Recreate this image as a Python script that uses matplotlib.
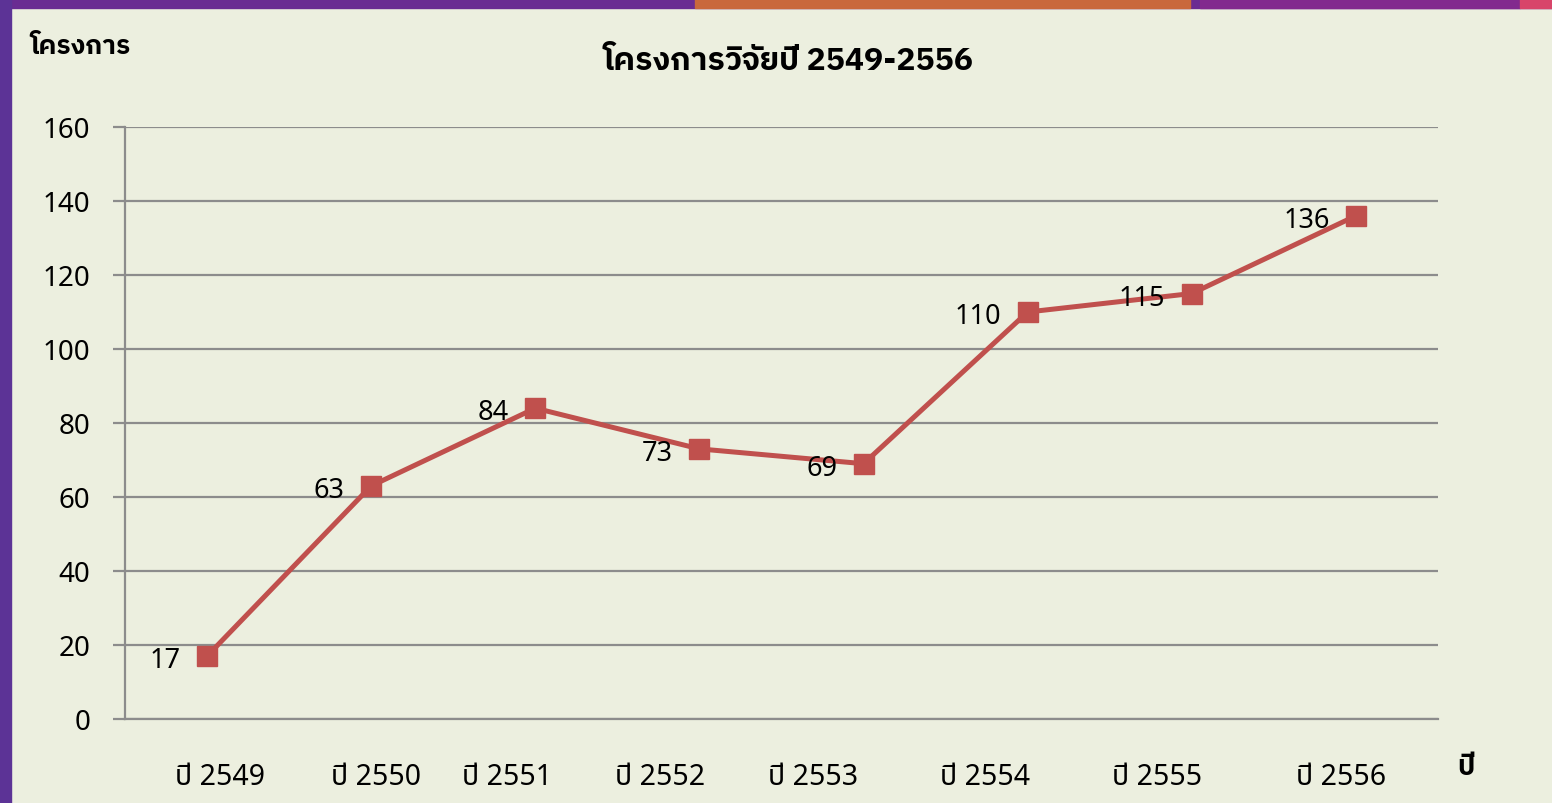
import matplotlib
matplotlib.use('Agg')
import matplotlib.pyplot as plt
from matplotlib.patches import Rectangle
import warnings
warnings.filterwarnings('ignore')

plt.rcParams['font.family'] = ['Noto Sans Thai', 'Bai Jamjuree', 'DejaVu Sans']
bold_fam = ['IBM Plex Sans Thai', 'Kanit', 'Bai Jamjuree', 'DejaVu Sans']

# data
years = ['ปี 2549', 'ปี 2550', 'ปี 2551', 'ปี 2552', 'ปี 2553', 'ปี 2554', 'ปี 2555', 'ปี 2556']
projects = [17, 63, 84, 73, 69, 110, 115, 136]
# where Excel put the year labels (category units)
label_pos = [0.08, 1.03, 1.83, 2.76, 3.69, 4.74, 5.79, 6.91]

bg = '#ECEFDF'
red = '#C0504D'
grid = '#8C8C8C'

fig = plt.figure(figsize=(15.52, 8.04), dpi=100)
fig.patch.set_facecolor(bg)

# slide background showing at the top and left edges
W, H = 1552, 804
def band(x0, y0, w, h, c):
    fig.patches.append(Rectangle((x0 / W, 1 - (y0 + h) / H), w / W, h / H,
                                 transform=fig.transFigure, color=c, zorder=-5))
band(0, 0, W, 9, '#6A2C92')
band(0, 0, 11, H, '#5C3396')
band(695, 0, 495, 9, '#C9683C')
band(1200, 0, 320, 9, '#822A8E')
band(1520, 0, 32, 9, '#D8456A')

ax = fig.add_axes([125 / W, 1 - 720 / H, (1438 - 125) / W, (720 - 128) / H])
ax.set_facecolor(bg)

x = list(range(len(years)))
ax.plot(x, projects, color=red, lw=3.6, marker='s', ms=14.5, zorder=3)
for xi, v in zip(x, projects):
    ax.annotate(str(v), (xi, v), xytext=(-19, -3), textcoords='offset points',
                ha='right', va='center', fontsize=19.5, color='black')

ax.set_xlim(-0.5, 7.5)
ax.set_ylim(0, 160)
ax.set_yticks(range(0, 161, 20))
ax.yaxis.grid(True, color=grid, lw=1.6)
ax.set_axisbelow(True)
ax.set_xticks(label_pos)
ax.set_xticklabels(years, fontsize=20.5)
ax.tick_params(axis='x', length=0, pad=31)
ax.tick_params(axis='y', length=9, width=1.6, color=grid, labelsize=20, pad=16)
for s in ['top', 'right']:
    ax.spines[s].set_visible(False)
for s in ['left', 'bottom']:
    ax.spines[s].set_color(grid)
    ax.spines[s].set_linewidth(1.6)

fig.text(789 / W, 1 - 62 / H, 'โครงการวิจัยปี 2549-2556', ha='center', va='center',
         fontsize=23, fontweight='bold', family=bold_fam)
fig.text(30 / W, 1 - 47 / H, 'โครงการ', ha='left', va='center', fontsize=19,
         fontweight='bold', family=bold_fam)
fig.text(1457 / W, 1 - 768 / H, 'ปี', ha='left', va='center', fontsize=20,
         fontweight='bold', family=bold_fam)

fig.savefig('out.png', dpi=100, facecolor=fig.get_facecolor())
